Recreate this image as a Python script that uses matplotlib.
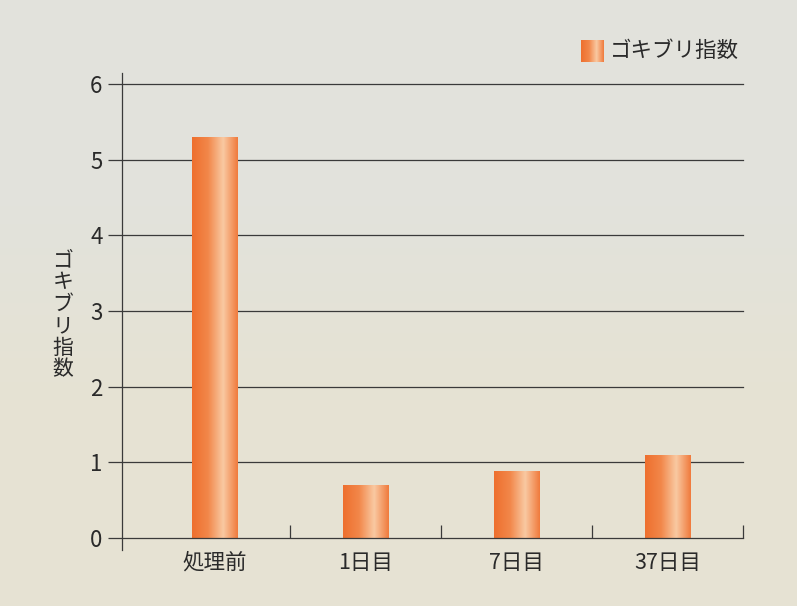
import matplotlib
matplotlib.use("Agg")
import matplotlib.pyplot as plt
import numpy as np
from matplotlib.colors import LinearSegmentedColormap
from matplotlib.patches import Rectangle
import matplotlib.transforms as mtrans

plt.rcParams['font.family'] = ['Noto Sans CJK JP', 'DejaVu Sans']

categories = ["処理前", "1日目", "7日目", "37日目"]
values = [5.3, 0.7, 0.88, 1.1]
yticks = [0, 1, 2, 3, 4, 5, 6]
series_name = "ゴキブリ指数"
ylabel = "ゴキブリ指数"

bg = "#e2e2dc"
line_col = "#3a3a3a"

grad = LinearSegmentedColormap.from_list(
    "bar", [(0.0, "#ee6f2e"), (0.35, "#f2874a"), (0.68, "#f9c9a2"), (1.0, "#f07a3c")])
grad_img = np.linspace(0, 1, 256).reshape(1, -1)

fig = plt.figure(figsize=(7.97, 6.06), dpi=100, facecolor=bg)
# slightly warmer lower part of the page
bgimg = np.linspace(0, 1, 100).reshape(-1, 1)
bgcmap = LinearSegmentedColormap.from_list("bg", ["#e6e2d3", "#e6e2d3", "#e2e2dc", "#e2e2dc"])
bax = fig.add_axes([0, 0, 1, 1], zorder=-10)
bax.imshow(bgimg, cmap=bgcmap, aspect="auto", origin="lower", extent=[0, 1, 0, 1])
bax.axis("off")

ax = fig.add_axes([122/797, 1-538/606, (743-122)/797, (538-84)/606])
ax.set_facecolor("none")

for s in ax.spines.values():
    s.set_visible(False)

# horizontal grid lines (including zero line)
for yv in yticks:
    ax.axhline(yv, color=line_col, lw=0.9, zorder=3 if yv == 0 else 1, clip_on=False)

# y axis line extending beyond data range
blend = mtrans.blended_transform_factory(ax.transAxes, ax.transData)
ax.plot([0, 0], [-0.16, 6.15], transform=blend, color=line_col, lw=0.9,
        clip_on=False, zorder=3)

# bars with horizontal gradient
x = np.arange(len(categories))
bw = 0.30
for xi, v in zip(x, values):
    rect = Rectangle((xi - bw/2, 0), bw, v, facecolor="none", edgecolor="none")
    ax.add_patch(rect)
    im = ax.imshow(grad_img, cmap=grad, aspect="auto",
                   extent=[xi - bw/2, xi + bw/2, 0, v], zorder=2)
    im.set_clip_path(rect)

ax.set_xlim(-0.5 - 17/151, 3.5)
ax.set_ylim(0, 6)

ax.set_yticks(yticks)
ax.set_yticklabels([str(t) for t in yticks])
ax.tick_params(axis="y", direction="out", length=10, width=0.9, color=line_col,
               pad=4, labelsize=16, labelcolor="#2a2a2a")

ax.set_xticks(x)
ax.set_xticklabels(categories)
ax.tick_params(axis="x", which="major", length=0, pad=10, labelsize=15.5,
               labelcolor="#2a2a2a")
ax.set_xticks(np.arange(len(categories)) + 0.5, minor=True)
ax.tick_params(axis="x", which="minor", direction="in", length=9.5, width=0.9,
               color=line_col)

# vertical y label (stacked characters)
fig.text(63/797, 1-315/606, "\n".join(ylabel), ha="center", va="center",
         fontsize=15, linespacing=0.98, color="#2a2a2a")

# legend
lax = fig.add_axes([581/797, 1-62/606, 23/797, 22/606])
lax.imshow(grad_img, cmap=grad, aspect="auto")
lax.axis("off")
fig.text(610/797, 1-51/606, series_name, ha="left", va="center",
         fontsize=15.5, color="#2a2a2a")

fig.savefig("out.png", dpi=100, facecolor=bg)
